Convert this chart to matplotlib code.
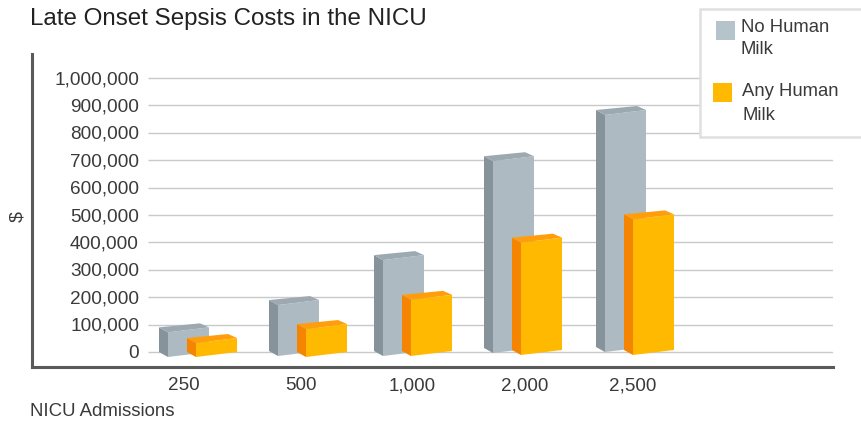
import matplotlib
matplotlib.use('Agg')
import matplotlib.pyplot as plt
from matplotlib.patches import Polygon, Rectangle

admissions = ['250', '500', '1,000', '2,000', '2,500']
no_milk = [90000, 186000, 350000, 700000, 865000]
any_milk = [51000, 102000, 205000, 410000, 495000]
y_ticks = list(range(0, 1000001, 100000))

W, H = 861, 421
PX_X = 109.0        # pixels per category
PX_Y = 274.0 / 1e6  # pixels per dollar

plt.rcParams['font.family'] = ['Liberation Sans', 'DejaVu Sans']
TEXT = '#3a3a3a'

fig = plt.figure(figsize=(W / 100, H / 100), dpi=100)
ax = fig.add_axes([32 / W, 1 - 367 / H, (833 - 32) / W, (367 - 54) / H])
ax.set_xlim((32 - 198) / PX_X, (833 - 198) / PX_X)
ax.set_ylim(-15 / PX_Y, 298 / PX_Y)


def px(n):
    return n / PX_X


def py(n):
    return n / PX_Y


def bar3d(i, value, left, lift, front, side, top):
    # left is the front face's left edge relative to the group centre, in pixels
    x0 = i + px(left)
    x1 = x0 + px(41)
    base = py(lift)
    tilt = py(5)
    sx, sy = px(9), py(4)
    h = value
    ax.add_patch(Polygon([(x0 - sx, base), (x0, base - tilt), (x0, base - tilt + h), (x0 - sx, base + h)],
                         fc=side, ec='none', zorder=3 + i))
    ax.add_patch(Polygon([(x0, base - tilt), (x1, base), (x1, base + h), (x0, base - tilt + h)],
                         fc=front, ec='none', zorder=3 + i))
    ax.add_patch(Polygon([(x0 - sx, base + h), (x0, base - tilt + h), (x1, base + h),
                          (x1 - px(9), base + h + sy)],
                         fc=top, ec='none', zorder=3 + i))


# small per-group drift of the fake perspective
nudge = [0, 1, -3, -2, 1]
lift_grey = [0, 1, 1, 4, 5]
lift_gold = [0, 0, 1, 2, 2]

ax.hlines(y_ticks, (148 - 198) / PX_X, ax.get_xlim()[1], color='#c9c9c9', lw=1.0, zorder=1)

for i in range(len(admissions)):
    bar3d(i, no_milk[i], -30 + nudge[i], lift_grey[i], '#AEBAC2', '#87939A', '#9DA9B1')
    bar3d(i + 0.0001, any_milk[i], -2 + nudge[i], lift_gold[i], '#FFB900', '#F58400', '#FF9E0A')

for s in ['top', 'right']:
    ax.spines[s].set_visible(False)
for s in ['left', 'bottom']:
    ax.spines[s].set_color('#5a5a5a')
    ax.spines[s].set_linewidth(2.2)

# value labels sit just under their grid lines
ax.set_yticks([])
ax.set_xticks([])
for v in y_ticks:
    ax.annotate(f'{v:,}', xy=(107 / 801, v), xycoords=('axes fraction', 'data'),
                xytext=(0, -1.2), textcoords='offset points', ha='right', va='center',
                fontsize=13.7, color=TEXT)

# category labels sit a little unevenly under the groups
label_px = [184, 301, 412, 525, 633]
for name, x in zip(admissions, label_px):
    fig.text(x / W, 1 - 386 / H, name, ha='center', va='center', fontsize=13.6, color=TEXT)

fig.text(30 / W, 1 - 25 / H, 'Late Onset Sepsis Costs in the NICU', ha='left', va='baseline',
         fontsize=17.4, color='#222222')
fig.text(30 / W, 1 - 412 / H, 'NICU Admissions', ha='left', va='center', fontsize=13.4, color=TEXT)
fig.text(18 / W, 1 - 216 / H, '$', rotation=90, ha='center', va='center', fontsize=14, color=TEXT)


def fig_rect(x0, y0, x1, y1, **kw):
    fig.add_artist(Rectangle((x0 / W, 1 - y1 / H), (x1 - x0) / W, (y1 - y0) / H,
                             transform=fig.transFigure, **kw))


# legend box runs off the right edge
fig_rect(700, 9, 870, 137, fc='white', ec='#e0e0e0', lw=1.8, zorder=10)
fig_rect(716, 21, 735, 40, fc='#B5C3CB', ec='none', zorder=11)
fig_rect(713, 83, 732, 102, fc='#FFB900', ec='none', zorder=11)
for x, y, s in [(741, 27, 'No Human'), (741, 50, 'Milk'), (742, 92, 'Any Human'), (742, 115, 'Milk')]:
    fig.text(x / W, 1 - y / H, s, ha='left', va='center', fontsize=13.3, color=TEXT, zorder=12)

fig.savefig('out.png', dpi=100)
